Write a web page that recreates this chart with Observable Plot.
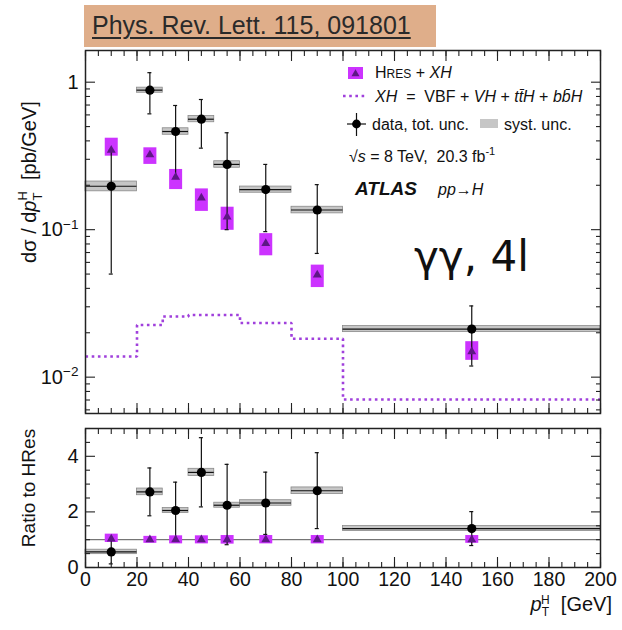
<!DOCTYPE html>
<html>
<head>
<meta charset="utf-8">
<script src="https://cdn.jsdelivr.net/npm/d3@7"></script>
<script src="https://cdn.jsdelivr.net/npm/@observablehq/plot@0.6"></script>
<style>
  body { margin: 0; background: #fff; }
  #chart { position: relative; width: 622px; height: 630px; overflow: hidden; font-family: "Liberation Sans", Arial, Helvetica, sans-serif; }
  #banner { position: absolute; left: 84px; top: 5px; width: 352px; height: 42px; background: #dfae8a; }
  #banner span { position: absolute; left: 8px; top: 6px; font-size: 25px; color: #2a2a2a; text-decoration: underline; text-decoration-thickness: 1.5px; text-underline-offset: 3px; white-space: nowrap; }
  #chart svg { position: absolute; left: 0; }
</style>
</head>
<body>
<div id="chart"><div id="banner"><span>Phys. Rev. Lett. 115, 091801</span></div></div>
<script>
// ---------------- data ----------------
const binLo     = [0, 20, 30, 40, 50, 60, 80, 100];
const binHi     = [20, 30, 40, 50, 60, 80, 100, 200];
const binCenter = [10, 25, 35, 45, 55, 70, 90, 150];

// measured cross section (pb/GeV), total and systematic uncertainty bounds
const dataXsec   = [0.197, 0.883, 0.463, 0.561, 0.277, 0.187, 0.136, 0.0212];
const dataTotLo  = [0.050, 0.610, 0.227, 0.357, 0.100, 0.097, 0.069, 0.0119];
const dataTotHi  = [0.346, 1.160, 0.695, 0.763, 0.454, 0.277, 0.202, 0.0304];
const dataSystLo = [0.182, 0.848, 0.440, 0.535, 0.263, 0.178, 0.129, 0.0202];
const dataSystHi = [0.212, 0.918, 0.487, 0.590, 0.291, 0.196, 0.143, 0.0222];

// HRes + XH prediction
const hresXsec = [0.346, 0.322, 0.227, 0.164, 0.122, 0.0806, 0.0494, 0.0149];
const hresLo   = [0.315, 0.277, 0.187, 0.133, 0.099, 0.0665, 0.0405, 0.0130];
const hresHi   = [0.417, 0.359, 0.256, 0.189, 0.142, 0.0940, 0.0575, 0.0174];

// XH = VBF + VH + ttH + bbH (step histogram)
const xhEdges = [0, 20, 30, 40, 50, 60, 80, 100, 200];
const xhXsec  = [0.0138, 0.0226, 0.0258, 0.0264, 0.0264, 0.0233, 0.0182, 0.00706];

// ratio to HRes
const ratioData   = [0.56, 2.72, 2.05, 3.42, 2.24, 2.32, 2.76, 1.40];
const ratioTotLo  = [0.13, 1.86, 1.00, 2.18, 0.82, 1.19, 1.40, 0.79];
const ratioTotHi  = [1.00, 3.58, 3.07, 4.67, 3.71, 3.43, 4.13, 2.01];
const ratioSystLo = [0.48, 2.60, 1.96, 3.29, 2.15, 2.22, 2.64, 1.31];
const ratioSystHi = [0.64, 2.84, 2.14, 3.55, 2.33, 2.42, 2.88, 1.49];
const ratioHres   = [1.03, 1.00, 1.00, 1.00, 1.00, 1.00, 1.00, 1.00];
const ratioHresLo = [0.90, 0.87, 0.85, 0.85, 0.84, 0.85, 0.85, 0.87];
const ratioHresHi = [1.20, 1.12, 1.14, 1.14, 1.15, 1.15, 1.15, 1.15];
const ratioRef = [1];

// ticks
const xMajor = [0, 20, 40, 60, 80, 100, 120, 140, 160, 180, 200];
const xMinor = [0,5,10,15,20,25,30,35,40,45,50,55,60,65,70,75,80,85,90,95,100,105,110,115,120,125,130,135,140,145,150,155,160,165,170,175,180,185,190,195,200];
const yMajor = [0.01, 0.1, 1];
const yTickLabels = ["10^−2", "10^−1", "1"];
const yMinor = [0.006,0.007,0.008,0.009,0.02,0.03,0.04,0.05,0.06,0.07,0.08,0.09,0.2,0.3,0.4,0.5,0.6,0.7,0.8,0.9];
const rMajor = [0, 2, 4];
const rTickLabels = ["0", "2", "4"];
const rMinor = [0.5,1,1.5,2.5,3,3.5,4.5,5];

// ---------------- tables ----------------
const bins = binLo.map((lo, i) => ({
  lo, hi: binHi[i], x: binCenter[i],
  y: dataXsec[i], totLo: dataTotLo[i], totHi: dataTotHi[i], sLo: dataSystLo[i], sHi: dataSystHi[i],
  h: hresXsec[i], hLo: hresLo[i], hHi: hresHi[i],
  r: ratioData[i], rTotLo: ratioTotLo[i], rTotHi: ratioTotHi[i], rsLo: ratioSystLo[i], rsHi: ratioSystHi[i],
  rh: ratioHres[i], rhLo: ratioHresLo[i], rhHi: ratioHresHi[i]
}));
const xhPts = xhEdges.map((x, i) => ({x, y: xhXsec[Math.min(i, xhXsec.length - 1)]}));

// ---------------- style ----------------
const FONT = '"Liberation Sans", Arial, Helvetica, sans-serif';
const MAG = "#cc33ff", TRI = "#5e1785", PURP = "#a040dc", BAND = "#c6c6c6", BANDEDGE = "#8a8a8a", INK = "#111";
const DOTS = "2.6,3.6";

function inward(axis, anchor, ticks, size) {
  const f = axis === "x" ? Plot.axisX : Plot.axisY;
  return f({anchor, ticks, tickSize: -size, fill: "none", stroke: "#222", strokeWidth: 1.1, label: null});
}
function frameTicks(xMaj, xMin, yMaj, yMin) {
  return [
    inward("x", "bottom", xMaj, 10), inward("x", "bottom", xMin, 5),
    inward("x", "top", xMaj, 10), inward("x", "top", xMin, 5),
    inward("y", "left", yMaj, 10), inward("y", "left", yMin, 5),
    inward("y", "right", yMaj, 10), inward("y", "right", yMin, 5)
  ];
}
function pointMarks(yk, lok, hik, slok, shik, hk, hlok, hhik) {
  return [
    Plot.rect(bins, {x1: "lo", x2: "hi", y1: slok, y2: shik, fill: BAND, stroke: BANDEDGE, strokeWidth: 0.8}),
    Plot.ruleX(bins, {x: "x", y1: hlok, y2: hhik, stroke: MAG, strokeWidth: 13}),
    Plot.ruleY(bins, {y: yk, x1: "lo", x2: "hi", stroke: INK, strokeWidth: 1.2}),
    Plot.ruleX(bins, {x: "x", y1: lok, y2: hik, stroke: INK, strokeWidth: 1.2}),
    Plot.ruleY(bins, {y: lok, x1: "x", x2: "x", insetLeft: -2, insetRight: -2, stroke: INK, strokeWidth: 1.2}),
    Plot.ruleY(bins, {y: hik, x1: "x", x2: "x", insetLeft: -2, insetRight: -2, stroke: INK, strokeWidth: 1.2}),
    Plot.dot(bins, {x: "x", y: hk, symbol: "triangle", fill: TRI, stroke: "none", r: 3.3}),
    Plot.dot(bins, {x: "x", y: yk, fill: "#000", stroke: "none", r: 4.6})
  ];
}

// ---------------- top panel ----------------
const topSvg = Plot.plot({
  width: 622, height: 380,
  marginTop: 4, marginBottom: 13, marginLeft: 85, marginRight: 22,
  style: {fontFamily: FONT, fontSize: "20px", color: INK, background: "transparent", overflow: "visible"},
  x: {domain: [0, 200]},
  y: {type: "log", domain: [0.00567, 1.64]},
  marks: [
    Plot.line(xhPts, {x: "x", y: "y", curve: "step-after", stroke: PURP, strokeWidth: 2.6,
      strokeDasharray: DOTS, strokeLinecap: "butt", strokeLinejoin: "miter"}),
    ...pointMarks("y", "totLo", "totHi", "sLo", "sHi", "h", "hLo", "hHi"),
    Plot.axisY({ticks: yMajor, tickSize: 0, tickPadding: 7, fontSize: 20, label: null,
      tickFormat: d => yTickLabels[yMajor.indexOf(d)]}),
    ...frameTicks(xMajor, xMinor, yMajor, yMinor),
    Plot.frame({stroke: "#222", strokeWidth: 1.5})
  ]
});
topSvg.style.top = "46px";
document.getElementById("chart").appendChild(topSvg);

// ---------------- ratio panel ----------------
const botSvg = Plot.plot({
  width: 622, height: 212,
  marginTop: 10, marginBottom: 63, marginLeft: 85, marginRight: 22,
  style: {fontFamily: FONT, fontSize: "20px", color: INK, background: "transparent", overflow: "visible"},
  x: {domain: [0, 200]},
  y: {domain: [0, 5]},
  marks: [
    Plot.ruleY(ratioRef, {stroke: "#555", strokeWidth: 1}),
    ...pointMarks("r", "rTotLo", "rTotHi", "rsLo", "rsHi", "rh", "rhLo", "rhHi"),
    Plot.axisY({ticks: rMajor, tickSize: 0, tickPadding: 7, fontSize: 20, label: null,
      tickFormat: d => rTickLabels[rMajor.indexOf(d)]}),
    Plot.axisX({ticks: xMajor, tickSize: 0, tickPadding: 5, fontSize: 19.5, label: null, tickFormat: d => String(d)}),
    ...frameTicks(xMajor, xMinor, rMajor, rMinor),
    Plot.frame({stroke: "#222", strokeWidth: 1.5})
  ]
});
botSvg.style.top = "418px";
document.getElementById("chart").appendChild(botSvg);

// superscript tick labels (10^-1, 10^-2)
d3.select(topSvg).selectAll("text").each(function () {
  const m = /^10\^(.+)$/.exec(this.textContent);
  if (m) {
    const s = d3.select(this);
    s.text("10");
    s.append("tspan").attr("dy", "-0.55em").attr("font-size", "0.68em").text(m[1]);
  }
});

// ---------------- axis titles ----------------
const yt = d3.select(topSvg).append("text")
  .attr("transform", "translate(36,136) rotate(-90)")
  .attr("text-anchor", "middle").attr("font-family", FONT).attr("font-size", 20).attr("fill", INK);
yt.append("tspan").text("dσ / d");
yt.append("tspan").attr("font-style", "italic").text("p");
yt.append("tspan").attr("font-size", 13).attr("dy", 6).text("T");
yt.append("tspan").attr("font-size", 13).attr("dx", -8).attr("dy", -15).text("H");
yt.append("tspan").attr("dy", 9).text("  [pb/GeV]");

d3.select(botSvg).append("text")
  .attr("transform", "translate(35,70) rotate(-90)")
  .attr("text-anchor", "middle").attr("font-family", FONT).attr("font-size", 19).attr("fill", INK)
  .text("Ratio to HRes");

const xt = d3.select(botSvg).append("text")
  .attr("x", 612).attr("y", 193).attr("text-anchor", "end")
  .attr("font-family", FONT).attr("font-size", 20).attr("fill", INK);
xt.append("tspan").attr("font-style", "italic").text("p");
xt.append("tspan").attr("font-size", 12).attr("dy", 5).text("T");
xt.append("tspan").attr("font-size", 12).attr("dx", -8).attr("dy", -12).text("H");
xt.append("tspan").attr("dy", 7).text("  [GeV]");

// ---------------- legend & labels ----------------
const g = d3.select(topSvg).append("g").attr("font-family", FONT).attr("fill", INK)
  .attr("font-size", 16).attr("text-anchor", "start");
// row 1
g.append("rect").attr("x", 348).attr("y", 21).attr("width", 15).attr("height", 12).attr("fill", MAG);
g.append("path").attr("d", d3.symbol(d3.symbolTriangle, 28)()).attr("transform", "translate(355.5,28)").attr("fill", TRI);
const t1 = g.append("text").attr("x", 375).attr("y", 32);
t1.append("tspan").text("H");
t1.append("tspan").attr("font-size", 12).text("RES");
t1.append("tspan").text(" + ");
t1.append("tspan").attr("font-style", "italic").text("XH");
// row 2
g.append("line").attr("x1", 343).attr("x2", 367).attr("y1", 50).attr("y2", 50)
  .attr("stroke", PURP).attr("stroke-width", 2.6).attr("stroke-dasharray", DOTS);
const t2 = g.append("text").attr("x", 375).attr("y", 56);
t2.append("tspan").attr("font-style", "italic").text("XH");
t2.append("tspan").text("  =  VBF + ");
t2.append("tspan").attr("font-style", "italic").text("VH");
t2.append("tspan").text(" + ");
t2.append("tspan").attr("font-style", "italic").text("tt\u0304H");
t2.append("tspan").text(" + ");
t2.append("tspan").attr("font-style", "italic").text("bb\u0304H");
// row 3
g.append("line").attr("x1", 347).attr("x2", 366).attr("y1", 78).attr("y2", 78).attr("stroke", INK).attr("stroke-width", 1.2);
g.append("line").attr("x1", 356.5).attr("x2", 356.5).attr("y1", 67).attr("y2", 90).attr("stroke", INK).attr("stroke-width", 1.2);
g.append("circle").attr("cx", 356.5).attr("cy", 78).attr("r", 4.4).attr("fill", "#000");
g.append("text").attr("x", 372).attr("y", 84).text("data, tot. unc.");
g.append("rect").attr("x", 480).attr("y", 73).attr("width", 18).attr("height", 9).attr("fill", BAND);
g.append("text").attr("x", 504).attr("y", 84).text("syst. unc.");
// row 4
const t4 = g.append("text").attr("x", 349).attr("y", 116);
t4.append("tspan").text("√");
t4.append("tspan").attr("font-style", "italic").text("s");
t4.append("tspan").text(" = 8 TeV,  20.3 fb");
t4.append("tspan").attr("font-size", 11).attr("dy", -7).text("-1");
// row 5
g.append("text").attr("x", 355).attr("y", 149).attr("font-size", 19).attr("font-weight", "bold").attr("font-style", "italic").text("ATLAS");
g.append("text").attr("x", 438).attr("y", 149).attr("font-style", "italic").text("pp→H");
// channel label
g.append("text").attr("x", 414).attr("y", 225).attr("font-family", '"DejaVu Sans", sans-serif').attr("font-size", 42).text("γγ, 4l");
</script>
</body>
</html>
